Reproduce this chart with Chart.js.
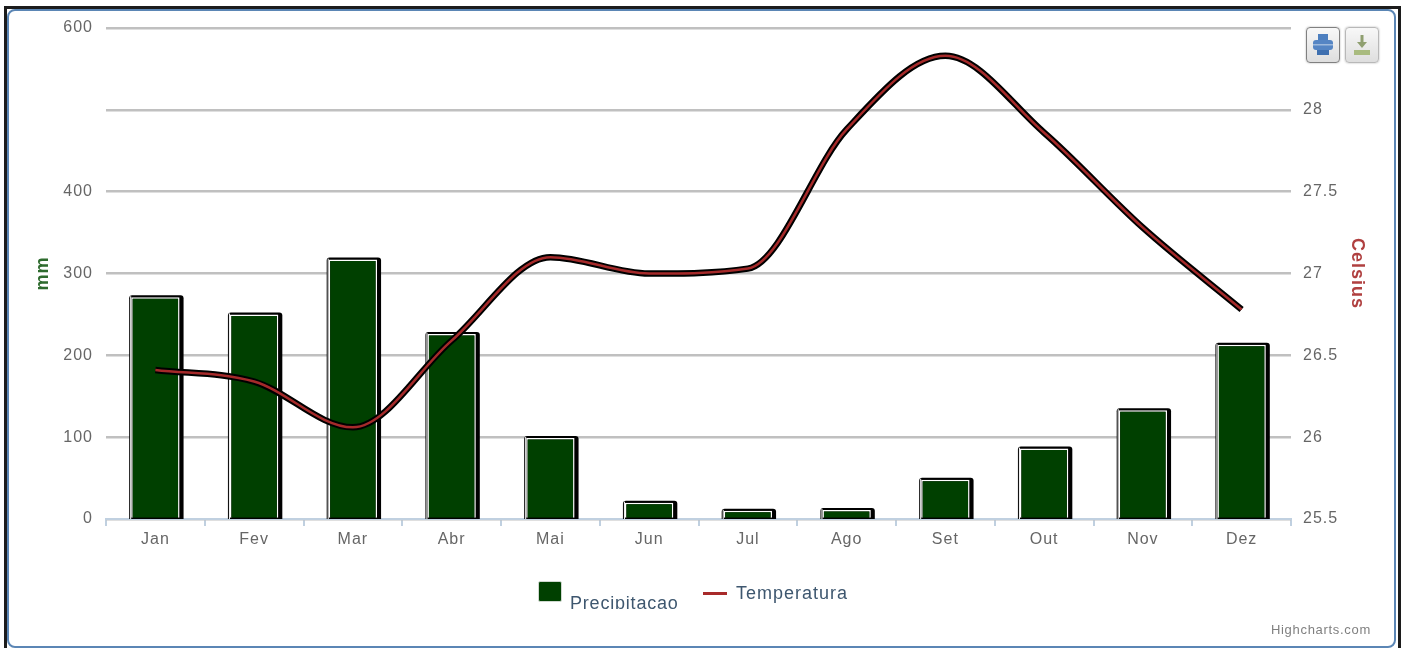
<!DOCTYPE html>
<html>
<head>
<meta charset="utf-8">
<title>Precipitacao e Temperatura</title>
<script src="https://cdn.jsdelivr.net/npm/chart.js@4"></script>
<style>
html, body { margin: 0; padding: 0; background: #fff; overflow: hidden; }
#wrap { position: relative; width: 1403px; height: 648px; }
#outer { position: absolute; left: 4px; top: 6px; width: 1391px; height: 660px; border: 3px solid #1c1c1c; }
#frame { position: absolute; left: 7px; top: 9px; width: 1385px; height: 635px; border: 2px solid #5b86b5; border-radius: 8px; background: #fff; }
canvas { position: absolute; left: 0; top: 0; }
.btn { position: absolute; top: 27px; width: 34px; height: 36px; box-sizing: border-box; border: 1px solid #b8b8b8; border-radius: 4px;
       background: linear-gradient(#f8f8f8, #dedede); box-shadow: 0 0 2px #aaa; }
.btn svg { position: absolute; left: 4px; top: 5px; }
#btnPrint { left: 1306px; border-color: #808080; }
#btnExport { left: 1345px; }
.leg { position: absolute; font: 18px "Liberation Sans Narrow", "Liberation Sans", sans-serif; letter-spacing: 0.8px; color: #3E576F; white-space: nowrap; }
#legBox { position: absolute; left: 538px; top: 581px; width: 24px; height: 21px; background: #004000; border: 1px solid #cfd8cf; box-sizing: border-box; border-radius: 2px; }
#legClip { position: absolute; left: 570px; top: 590px; width: 120px; height: 19px; overflow: hidden; }
#legClip .leg { left: 0; top: 3px; }
#legLine { position: absolute; left: 703px; top: 592px; width: 24px; height: 3px; background: #a82a2a; }
#legTemp { left: 736px; top: 583px; letter-spacing: 1px; }
#credit { position: absolute; right: 32px; top: 622px; font: 13px "Liberation Sans Narrow", "Liberation Sans", sans-serif; letter-spacing: .7px; color: #808080; }
</style>
</head>
<body>
<div id="wrap">
  <div id="outer"></div>
  <div id="frame"></div>
  <canvas id="chuva_chart" width="1403" height="648"></canvas>
  <div class="btn" id="btnPrint"><svg width="24" height="24" viewBox="0 0 24 24"><rect x="7" y="1" width="10" height="6" fill="#4d7fbf"/><rect x="2" y="7" width="20" height="10" rx="3" fill="#5585c4"/><rect x="2" y="11" width="20" height="1.5" fill="#9db9dc"/><rect x="6" y="17" width="12" height="5" fill="#3f70b0"/></svg></div>
  <div class="btn" id="btnExport"><svg width="24" height="24" viewBox="0 0 24 24"><rect x="10.5" y="2" width="3" height="8" fill="#8f9f70"/><path d="M7 9h10l-5 6z" fill="#8f9f70"/><rect x="4" y="17" width="16" height="5" fill="#a9bb7f"/></svg></div>
  <div id="legBox"></div>
  <div id="legClip"><span class="leg" id="legRain"></span></div>
  <div id="legLine"></div>
  <span class="leg" id="legTemp"></span>
  <div id="credit">Highcharts.com</div>
</div>
<script>
var meses = ['Jan','Fev','Mar','Abr','Mai','Jun','Jul','Ago','Set','Out','Nov','Dez'];
var precipitacao = [271, 250, 317, 226, 99, 20, 10, 11, 48, 86, 133, 213];
var temperatura = [26.41, 26.34, 26.06, 26.59, 27.1, 27.0, 27.03, 27.88, 28.33, 27.86, 27.28, 26.78];
var mmLabels = {0:'0', 100:'100', 200:'200', 300:'300', 400:'400', 600:'600'};
var celsiusLabels = {25.5:'25.5', 26:'26', 26.5:'26.5', 27:'27', 27.5:'27.5', 28:'28'};

var tickFont = { family: '"Liberation Sans Narrow", "Liberation Sans", sans-serif', size: 16 };

// black offset box behind each bar
var barShadow = {
    id: 'barShadow',
    beforeDatasetDraw: function(chart, args){
        if (args.meta.type !== 'bar') return;
        var c = chart.ctx, base = chart.scales.x.top;
        c.save();
        c.fillStyle = '#000';
        args.meta.data.forEach(function(b){
            var l = b.x - b.width / 2 - 2, r = b.x + b.width / 2 + 4;
            c.beginPath();
            c.roundRect(l, b.y - 2, r - l, base - b.y + 2, [3, 3, 0, 0]);
            c.fill();
            // thin gap on the left side, only the outer edge stays dark
            c.fillStyle = '#fff';
            c.fillRect(l + 1, b.y - 1, 1, base - b.y + 1);
            c.fillStyle = '#000';
        });
        c.restore();
    }
};

var spacing = {
    id: 'spacing',
    beforeDraw: function(chart){ chart.ctx.letterSpacing = '1px'; }
};

var ctx = document.getElementById('chuva_chart');
var chart = new Chart(ctx, {
    data: {
        labels: meses,
        datasets: [
            { type: 'line', label: 'Temperatura', data: temperatura, yAxisID: 'yC', order: 1,
              borderColor: '#a52a2a', borderWidth: 2.5, cubicInterpolationMode: 'monotone', pointRadius: 0 },
            { type: 'line', label: 'sombra', data: temperatura, yAxisID: 'yC', order: 2,
              borderColor: '#000', borderWidth: 6.5, cubicInterpolationMode: 'monotone', pointRadius: 0 },
            { type: 'bar', label: 'Precipitacao', data: precipitacao, yAxisID: 'yM', order: 3,
              backgroundColor: '#004000', borderColor: '#fff', borderWidth: 1.5,
              categoryPercentage: 1, barPercentage: 0.49 }
        ]
    },
    options: {
        responsive: false,
        animation: false,
        layout: { padding: { left: 30, right: 35, top: 28, bottom: 0 } },
        plugins: { legend: { display: false }, tooltip: { enabled: false } },
        scales: {
            x: {
                offset: true,
                afterFit: function(s){ s.height = 129; },
                border: { color: '#c0d0e0', width: 2 },
                grid: { offset: true, drawOnChartArea: false, color: '#c0d0e0', lineWidth: 2, tickLength: 7 },
                ticks: { color: '#666', font: tickFont, padding: 4, maxRotation: 0 }
            },
            yM: {
                position: 'left', min: 0, max: 600,
                afterFit: function(s){ s.width = 76; },
                border: { display: false },
                grid: { color: '#c0c0c0', lineWidth: 2.5, drawTicks: false },
                title: { display: true, text: 'mm', color: '#2e6b2e', font: { family: tickFont.family, size: 18, weight: 'bold' }, padding: { top: 2, bottom: 0 } },
                ticks: { stepSize: 100, color: '#666', font: tickFont, padding: 13,
                          callback: function(v){ return mmLabels[v] || ''; } }
            },
            yC: {
                position: 'right', min: 25.5, max: 28.5,
                afterFit: function(s){ s.width = 77; },
                border: { display: false },
                grid: { display: false, drawTicks: false },
                title: { display: true, text: 'Celsius', color: '#b04040', font: { family: tickFont.family, size: 18, weight: 'bold' }, padding: 0 },
                ticks: { stepSize: 0.5, color: '#666', font: tickFont, padding: 12,
                          callback: function(v){ return celsiusLabels[v] || ''; } }
            }
        }
    },
    plugins: [spacing, barShadow]
});

document.getElementById('legRain').textContent = chart.data.datasets[2].label;
document.getElementById('legTemp').textContent = chart.data.datasets[0].label;
</script>
</body>
</html>
